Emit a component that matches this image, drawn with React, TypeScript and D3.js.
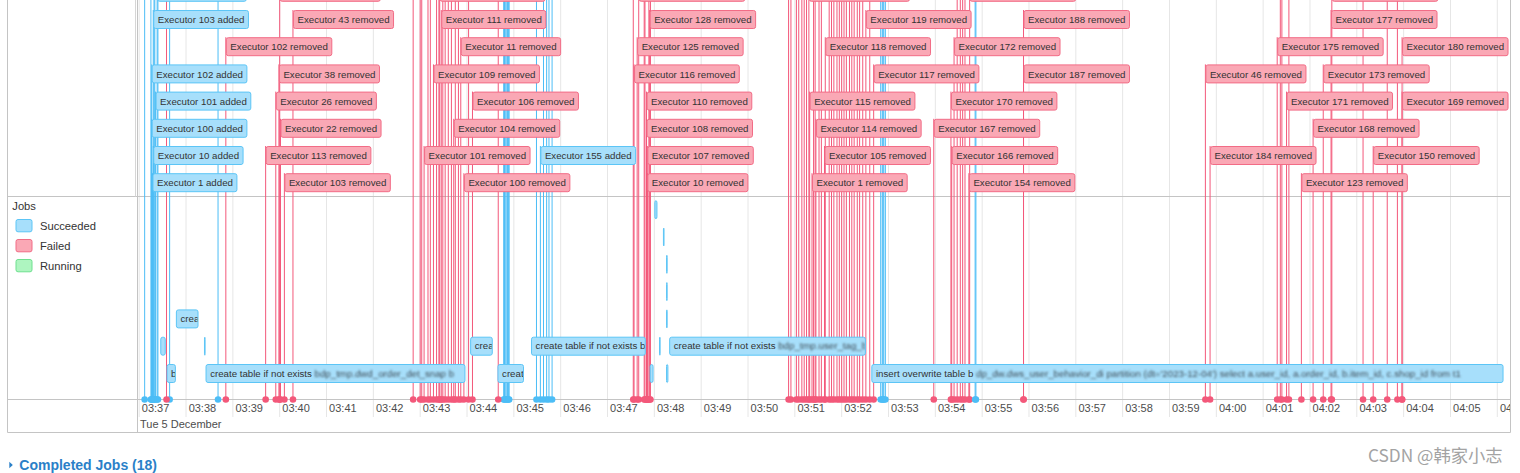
import React from "react";
import * as d3 from "d3";

// ---------------- DATA ----------------
const DAY = "2023-12-05";
const AXIS_START = "03:37:00";
const AXIS_END = "04:06:00";
const DATE_LABEL = "Tue 5 December";

// executor "added" events with a box: [label, time, stack level]
const addedEvents: [string, string, number][] = [
  ["Executor 103 added", "03:37:18", 0],
  ["Executor 102 added", "03:37:16", 2],
  ["Executor 101 added", "03:37:21", 3],
  ["Executor 100 added", "03:37:16", 4],
  ["Executor 10 added", "03:37:18", 5],
  ["Executor 1 added", "03:37:17", 6],
  ["Executor 155 added", "03:45:34", 5],
  ["Executor 11 added", "03:37:23", -1],
];

// executor "removed" events with a box: [label, time, stack level]
const removedEvents: [string, string, number][] = [
  ["Executor 43 removed", "03:40:17", 0],
  ["Executor 111 removed", "03:43:27", 0],
  ["Executor 128 removed", "03:47:54", 0],
  ["Executor 119 removed", "03:52:31", 0],
  ["Executor 188 removed", "03:55:53", 0],
  ["Executor 177 removed", "04:02:27", 0],
  ["Executor 102 removed", "03:38:51", 1],
  ["Executor 11 removed", "03:43:52", 1],
  ["Executor 125 removed", "03:47:38", 1],
  ["Executor 118 removed", "03:51:39", 1],
  ["Executor 172 removed", "03:54:24", 1],
  ["Executor 175 removed", "04:01:18", 1],
  ["Executor 180 removed", "04:03:58", 1],
  ["Executor 38 removed", "03:39:59", 2],
  ["Executor 109 removed", "03:43:17", 2],
  ["Executor 116 removed", "03:47:34", 2],
  ["Executor 117 removed", "03:52:41", 2],
  ["Executor 187 removed", "03:55:53", 2],
  ["Executor 46 removed", "03:59:46", 2],
  ["Executor 173 removed", "04:02:17", 2],
  ["Executor 26 removed", "03:39:55", 3],
  ["Executor 106 removed", "03:44:07", 3],
  ["Executor 110 removed", "03:47:50", 3],
  ["Executor 115 removed", "03:51:19", 3],
  ["Executor 170 removed", "03:54:20", 3],
  ["Executor 171 removed", "04:01:30", 3],
  ["Executor 169 removed", "04:03:58", 3],
  ["Executor 22 removed", "03:40:01", 4],
  ["Executor 104 removed", "03:43:43", 4],
  ["Executor 108 removed", "03:47:50", 4],
  ["Executor 114 removed", "03:51:27", 4],
  ["Executor 167 removed", "03:53:58", 4],
  ["Executor 168 removed", "04:02:04", 4],
  ["Executor 113 removed", "03:39:42", 5],
  ["Executor 101 removed", "03:43:05", 5],
  ["Executor 107 removed", "03:47:51", 5],
  ["Executor 105 removed", "03:51:38", 5],
  ["Executor 166 removed", "03:54:21", 5],
  ["Executor 184 removed", "03:59:52", 5],
  ["Executor 150 removed", "04:03:21", 5],
  ["Executor 103 removed", "03:40:06", 6],
  ["Executor 100 removed", "03:43:56", 6],
  ["Executor 10 removed", "03:47:51", 6],
  ["Executor 1 removed", "03:51:22", 6],
  ["Executor 154 removed", "03:54:43", 6],
  ["Executor 123 removed", "04:01:49", 6],
  ["Executor 44 removed", "03:40:00", -1],
  ["Executor 112 removed", "03:43:25", -1],
  ["Executor 126 removed", "03:47:40", -1],
  ["Executor 12 removed", "03:51:18", -1],
  ["Executor 156 removed", "03:54:44", -1],
  ["Executor 178 removed", "04:02:28", -1],
];

// executor events whose boxes are scrolled out of view (only their lines show)
const addedOffscreen: string[] = [
  "03:37:07", "03:37:15", "03:37:19", "03:37:20", "03:37:24", "03:37:39", "03:38:41",
  "03:44:47", "03:44:48", "03:44:49", "03:44:51", "03:44:52", "03:44:53", "03:44:54",
  "03:45:29", "03:45:38", "03:45:42", "03:45:45", "03:45:49",
  "03:52:50", "03:52:52", "03:52:53", "03:52:54", "03:52:56",
  "03:54:51", "03:54:52",
];
const removedOffscreen: string[] = [
  "03:37:35", "03:42:51", "03:43:00", "03:43:02", "03:43:10", "03:43:13", "03:43:21",
  "03:43:24", "03:43:29", "03:43:32", "03:43:36", "03:43:40", "03:43:45", "03:43:49",
  "03:44:02", "03:44:40",
  "03:47:33", "03:47:47", "03:47:48", "03:47:53", "03:47:55",
  "03:50:52", "03:50:55", "03:51:02", "03:51:05", "03:51:09", "03:51:12", "03:51:15",
  "03:51:24", "03:51:26", "03:51:31", "03:51:34", "03:51:44", "03:51:47", "03:51:50",
  "03:51:54", "03:51:57", "03:52:00", "03:52:03", "03:52:06", "03:52:10", "03:52:13",
  "03:52:16", "03:52:20", "03:52:23", "03:52:27", "03:52:36",
  "03:54:28", "03:54:32", "03:54:35", "03:54:38",
  "04:01:22", "04:01:24", "04:01:33", "04:03:08", "04:03:39", "04:03:52",
];

// jobs: [start, end, stack level, description, redacted part]
const jobs: [string, string, number, string, string][] = [
  ["03:37:27", "03:37:34", 1, "", ""],
  ["03:37:35", "03:37:47", 0, "b", ""],
  ["03:37:47", "03:38:16", 2, "crea", ""],
  ["03:38:23", "03:38:24", 1, "", ""],
  ["03:38:25", "03:43:58", 0, "create table if not exists", "bdp_tmp.dwd_order_det_snap b"],
  ["03:44:04", "03:44:33", 1, "crea", ""],
  ["03:44:39", "03:45:13", 0, "creat", ""],
  ["03:45:22", "03:47:49", 1, "create table if not exists b", ""],
  ["03:47:54", "03:47:59", 0, "", ""],
  ["03:48:00", "03:48:04", 6, "", ""],
  ["03:48:06", "03:48:08", 1, "", ""],
  ["03:48:11", "03:48:13", 5, "", ""],
  ["03:48:15", "03:48:16", 4, "", ""],
  ["03:48:15", "03:48:16", 3, "", ""],
  ["03:48:15", "03:48:16", 2, "", ""],
  ["03:48:15", "03:48:18", 0, "", ""],
  ["03:48:19", "03:52:31", 1, "create table if not exists", "bdp_tmp.user_tag_b"],
  ["03:52:38", "04:06:08", 0, "insert overwrite table b", "dp_dw.dws_user_behavior_di partition (dt='2023-12-04') select a.user_id, a.order_id, b.item_id, c.shop_id from t1"],
];

const legendTitle = "Jobs";
const legendItems = ["Succeeded", "Failed", "Running"];
const completedTitle = "Completed Jobs (18)";
const watermark = "CSDN @韩家小志";

// ---------------- HELPERS ----------------
const parse = d3.timeParse("%Y-%m-%d %H:%M:%S");
const T = (s: string) => parse(`${DAY} ${s}`) as Date;

let _ctx: CanvasRenderingContext2D | null = null;
function textWidth(s: string, font: string) {
  if (!_ctx) _ctx = document.createElement("canvas").getContext("2d");
  if (!_ctx) return s.length * 5.5;
  _ctx.font = font;
  return _ctx.measureText(s).width;
}

const FONT = "'Liberation Sans', Arial, Helvetica, sans-serif";
const BOX_FS = 9.7;

const C = {
  blueFill: "#a7dffb",
  blueBorder: "#5cc5f6",
  blueLine: "#4cbdf6",
  redFill: "#faa8b5",
  redBorder: "#f26c86",
  redLine: "#f3587a",
  greenFill: "#aef5c0",
  greenBorder: "#6ee08f",
  grid: "#e6e6e6",
  frame: "#c4c4c4",
  text: "#333",
  axisText: "#4d4d4d",
};

export default function App() {
  const W = 1520;
  const H = 473;
  const frameL = 7.5;
  const frameR = 1510.5;
  const divider = 137;
  const groupSep = 196.5;
  const axisY = 399.5;
  const frameB = 432.5;

  const x = d3
    .scaleTime()
    .domain([T(AXIS_START), T(AXIS_END)])
    .range([139.2, 1497.3]);
  const ticks = x.ticks(d3.timeMinute.every(1) as d3.TimeInterval);
  const fmt = d3.timeFormat("%H:%M");

  const exTop = (lvl: number) => 10 + 27.2 * lvl;
  const jobTop = (lvl: number) => 364 - 27.3 * lvl;
  const boxH = 19;

  const boxes = [
    ...addedEvents.map((d) => ({ label: d[0], t: T(d[1]), lvl: d[2], kind: "added" })),
    ...removedEvents.map((d) => ({ label: d[0], t: T(d[1]), lvl: d[2], kind: "removed" })),
  ];
  const lines = [
    ...boxes.map((b) => ({ t: b.t, kind: b.kind, top: exTop(b.lvl) })),
    ...addedOffscreen.map((s) => ({ t: T(s), kind: "added", top: -60 })),
    ...removedOffscreen.map((s) => ({ t: T(s), kind: "removed", top: -60 })),
  ];

  const boxFont = `${BOX_FS}px ${FONT}`;

  return (
    <svg
      width={W}
      height={H}
      style={{ position: "absolute", left: 0, top: 0, background: "#fff" }}
      fontFamily={FONT}
    >
      <defs>
        <clipPath id="center">
          <rect x={divider + 1} y={0} width={frameR - divider - 1.5} height={frameB} />
        </clipPath>
        <filter id="redact" x="-5%" y="-50%" width="110%" height="200%">
          <feGaussianBlur stdDeviation="1.1" />
        </filter>
      </defs>

      {/* grid */}
      <g clipPath="url(#center)">
        {ticks.map((t, i) => (
          <line key={i} x1={x(t)} x2={x(t)} y1={0} y2={417} stroke={C.grid} strokeWidth={1} />
        ))}
      </g>

      {/* frame */}
      <g stroke={C.frame} strokeWidth={1} fill="none">
        <line x1={frameL} x2={frameL} y1={0} y2={frameB} />
        <line x1={frameR} x2={frameR} y1={0} y2={frameB} />
        <line x1={frameL} x2={frameR} y1={frameB} y2={frameB} />
        <line x1={frameL} x2={frameR} y1={groupSep} y2={groupSep} />
        <line x1={divider - 1.5} x2={divider - 1.5} y1={0} y2={groupSep} stroke="#d6d6d6" />
        <line x1={divider + 0.5} x2={divider + 0.5} y1={0} y2={frameB} />
      </g>

      <g clipPath="url(#center)">
        {/* executor lines */}
        {lines.map((l, i) => (
          <line
            key={i}
            x1={x(l.t)}
            x2={x(l.t)}
            y1={l.top}
            y2={axisY}
            stroke={l.kind === "added" ? C.blueLine : C.redLine}
            strokeWidth={1}
          />
        ))}

        {/* jobs */}
        {jobs.map((j, i) => {
          const x0 = x(T(j[0]));
          const x1 = x(T(j[1]));
          const w = Math.max(x1 - x0, 1.6);
          const y0 = jobTop(j[2]);
          const tw = j[3] ? textWidth(j[3] + " ", boxFont) : 0;
          return (
            <g key={i}>
              <rect
                x={x0 + 0.5}
                y={y0 + 0.5}
                width={Math.max(w - 1, 0.6)}
                height={boxH - 1}
                rx={2}
                fill={C.blueFill}
                stroke={C.blueBorder}
                strokeWidth={1}
              />
              {(j[3] || j[4]) && (
                <svg x={x0 + 1} y={y0} width={Math.max(w - 2, 0)} height={boxH} overflow="hidden">
                  <text x={3.6} y={12.8} fontSize={BOX_FS} fill={C.text}>
                    {j[3]}
                  </text>
                  {j[4] && (
                    <text x={3.6 + tw} y={12.8} fontSize={BOX_FS} fill="#3f4c56" filter="url(#redact)">
                      {j[4]}
                    </text>
                  )}
                </svg>
              )}
            </g>
          );
        })}

        {/* executor boxes */}
        {boxes.map((b, i) => {
          const bx = x(b.t);
          const by = exTop(b.lvl);
          const w = textWidth(b.label, boxFont) + 9;
          const added = b.kind === "added";
          return (
            <g key={i}>
              <rect
                x={bx + 0.5}
                y={by + 0.5}
                width={w - 1}
                height={boxH - 1}
                rx={2}
                fill={added ? C.blueFill : C.redFill}
                stroke={added ? C.blueBorder : C.redBorder}
                strokeWidth={1}
              />
              {b.lvl >= 0 && (
                <text x={bx + 4.5} y={by + 13.2} fontSize={BOX_FS} fill={C.text}>
                  {b.label}
                </text>
              )}
            </g>
          );
        })}
      </g>

      {/* axis line */}
      <line x1={frameL} x2={frameR} y1={axisY} y2={axisY} stroke={C.frame} strokeWidth={1} />

      <g clipPath="url(#center)">
        {/* dots */}
        {lines.map((l, i) => (
          <circle
            key={i}
            cx={x(l.t)}
            cy={axisY}
            r={3.3}
            fill={l.kind === "added" ? C.blueLine : C.redLine}
          />
        ))}
        {/* tick labels */}
        {ticks.map((t, i) => (
          <text key={i} x={x(t) + 2.6} y={412.3} fontSize={11} fill={C.axisText}>
            {fmt(t)}
          </text>
        ))}
        <text x={x(T(AXIS_START)) + 0.8} y={428.3} fontSize={11} fill={C.axisText}>
          {DATE_LABEL}
        </text>
      </g>

      {/* legend */}
      <text x={12.3} y={210.3} fontSize={11.2} fill={C.text}>
        {legendTitle}
      </text>
      {legendItems.map((name, i) => {
        const fills = [C.blueFill, C.redFill, C.greenFill];
        const strokes = [C.blueBorder, C.redBorder, C.greenBorder];
        const y0 = 219.5 + i * 20;
        return (
          <g key={name}>
            <rect x={16} y={y0} width={16} height={12.3} rx={2} fill={fills[i]} stroke={strokes[i]} strokeWidth={1} />
            <text x={40} y={y0 + 10.8} fontSize={11.2} fill={C.text}>
              {name}
            </text>
          </g>
        );
      })}

      {/* below the chart */}
      <path d="M9.3,461.7 L12.8,465 L9.3,468.3 Z" fill="#2a80c8" />
      <text x={19.3} y={470} fontSize={14} fontWeight="bold" fill="#2a80c8">
        {completedTitle}
      </text>
      <text x={1368} y={462} fontSize={17.3} fill="#a3a3a3" fontFamily="'Noto Sans CJK SC', 'Noto Sans', sans-serif">
        {watermark}
      </text>
    </svg>
  );
}
